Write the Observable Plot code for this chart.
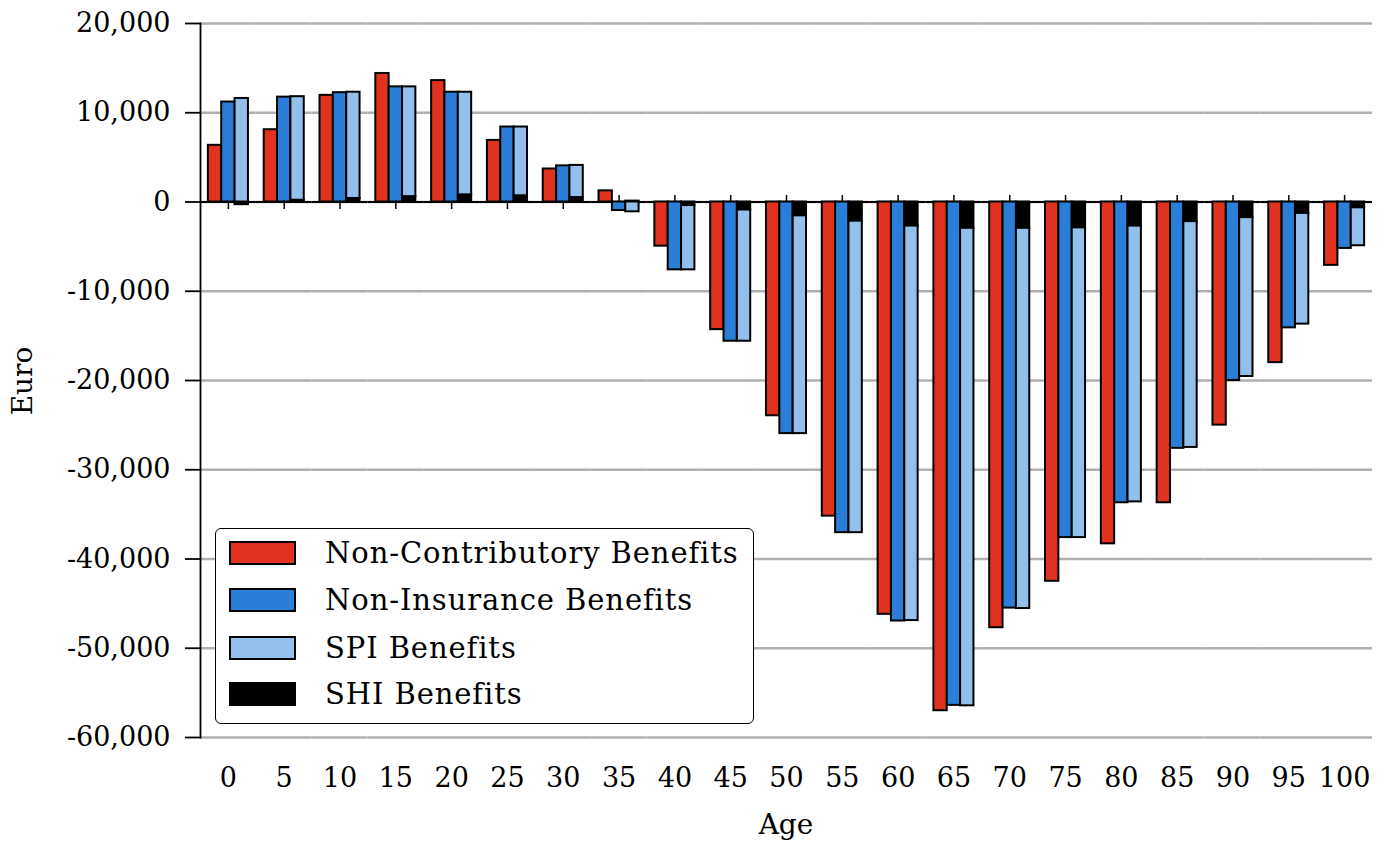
<!DOCTYPE html>
<html>
<head>
<meta charset="utf-8">
<script src="https://cdn.jsdelivr.net/npm/d3@7"></script>
<script src="https://cdn.jsdelivr.net/npm/@observablehq/plot@0.6"></script>
<style>
  html, body { margin: 0; padding: 0; background: #fff; }
  #wrap { position: relative; width: 1385px; height: 849px; font-family: "DejaVu Serif", serif; color: #000; }
  #legend { position: absolute; left: 215px; top: 528px; width: 537px; height: 194px; border: 1.8px solid #000; border-radius: 6px; background: #fff; }
  .row { position: absolute; left: 0; height: 30px; }
  .sw { position: absolute; left: 13px; width: 67px; height: 24px; box-sizing: border-box; border: 2px solid #000; }
  .lt { position: absolute; left: 109px; white-space: nowrap; font-size: 29px; line-height: 30px; letter-spacing: 0.9px; }
  #ylab { position: absolute; left: 22px; top: 381px; transform: translate(-50%, -50%) rotate(-90deg); font-size: 28px; white-space: nowrap; }
  #xlab { position: absolute; left: 786px; top: 808px; transform: translateX(-50%); font-size: 28px; white-space: nowrap; }
</style>
</head>
<body>
<div id="wrap"></div>
<script>
// ---- data ----
const ages = [0, 5, 10, 15, 20, 25, 30, 35, 40, 45, 50, 55, 60, 65, 70, 75, 80, 85, 90, 95, 100];
const seriesNames = ["Non-Contributory Benefits", "Non-Insurance Benefits", "SPI Benefits", "SHI Benefits"];
const seriesColors = ["#E0321F", "#2A7ED8", "#92BFEB", "#000000"];
const nonContributory = [6350, 8100, 11950, 14400, 13600, 6900, 3700, 1250, -4950, -14300, -23950, -35200, -46200, -57000, -47700, -42500, -38300, -33700, -25000, -18000, -7100];
const nonInsurance = [11200, 11750, 12250, 12900, 12300, 8400, 4050, -950, -7600, -15600, -25950, -37050, -46950, -56400, -45500, -37600, -33700, -27600, -20000, -14100, -5200];
const shi = [-300, 200, 400, 600, 800, 700, 500, 100, -400, -900, -1550, -2150, -2700, -2950, -2950, -2900, -2700, -2200, -1750, -1280, -650];
const spi = [11600, 11600, 11900, 12300, 11500, 7700, 3600, -1100, -7200, -14700, -24400, -34900, -44200, -53500, -42600, -34700, -30900, -25300, -17800, -12400, -4250];
const yTicks = [-60000, -50000, -40000, -30000, -20000, -10000, 0, 10000, 20000];
const slots = ["a", "b", "c"];

// ---- long table ----
const rows = [];
ages.forEach((age, i) => {
  rows.push({age, slot: "a", series: seriesNames[0], value: nonContributory[i]});
  rows.push({age, slot: "b", series: seriesNames[1], value: nonInsurance[i]});
});
ages.forEach((age, i) => rows.push({age, slot: "c", series: seriesNames[3], value: shi[i]}));
ages.forEach((age, i) => rows.push({age, slot: "c", series: seriesNames[2], value: spi[i]}));

const fmt = d => d.toLocaleString("en-US");
const tickSymbol = { draw(ctx) { ctx.moveTo(0, -7); ctx.lineTo(0, 7); } };

const chart = Plot.plot({
  width: 1385,
  height: 849,
  marginLeft: 200,
  marginRight: 13,
  marginTop: 23,
  marginBottom: 112,
  style: { fontFamily: "DejaVu Serif", fontSize: "27px", color: "#000", background: "#fff", overflow: "visible" },
  fx: { domain: ages, paddingInner: 0, paddingOuter: 0, round: false, label: null },
  x: { domain: slots, paddingInner: 0, paddingOuter: 0.59, round: false, axis: null },
  y: { domain: [-60000, 20000], label: null },
  color: { domain: seriesNames, range: seriesColors },
  marks: [
    Plot.gridY(yTicks, { stroke: "#b0b0b0", strokeOpacity: 1, strokeWidth: 2.4 }),
    Plot.ruleY([0], { stroke: "#000", strokeWidth: 1.8 }),
    Plot.dot(ages, { fx: d => d, x: () => "b", y: () => 0, symbol: tickSymbol, stroke: "#000", strokeWidth: 1.5, r: 5 }),
    Plot.barY(rows, { fx: "age", x: "slot", y: "value", fill: "series", stroke: "#000", strokeWidth: 2 }),
    Plot.frame({ anchor: "left", facetAnchor: "left", stroke: "#000", strokeWidth: 1.8 }),
    Plot.axisY(yTicks, { tickSize: 15, tickPadding: 15, tickFormat: fmt, label: null, stroke: "#000", strokeWidth: 1.8 }),
    Plot.axisFx({ anchor: "bottom", tickSize: 0, tickPadding: 30, label: null })
  ]
});

const wrap = document.getElementById("wrap");
wrap.appendChild(chart);

const ylab = document.createElement("div"); ylab.id = "ylab"; ylab.textContent = "Euro"; wrap.appendChild(ylab);
const xlab = document.createElement("div"); xlab.id = "xlab"; xlab.textContent = "Age"; wrap.appendChild(xlab);

const legend = document.createElement("div"); legend.id = "legend";
const rowTops = [9, 56, 104, 150];
seriesNames.forEach((name, i) => {
  const r = document.createElement("div"); r.className = "row"; r.style.top = rowTops[i] + "px";
  const sw = document.createElement("div"); sw.className = "sw"; sw.style.background = seriesColors[i]; sw.style.top = "3px";
  const t = document.createElement("div"); t.className = "lt"; t.textContent = name; t.style.top = "0px";
  r.appendChild(sw); r.appendChild(t); legend.appendChild(r);
});
wrap.appendChild(legend);
</script>
</body>
</html>
